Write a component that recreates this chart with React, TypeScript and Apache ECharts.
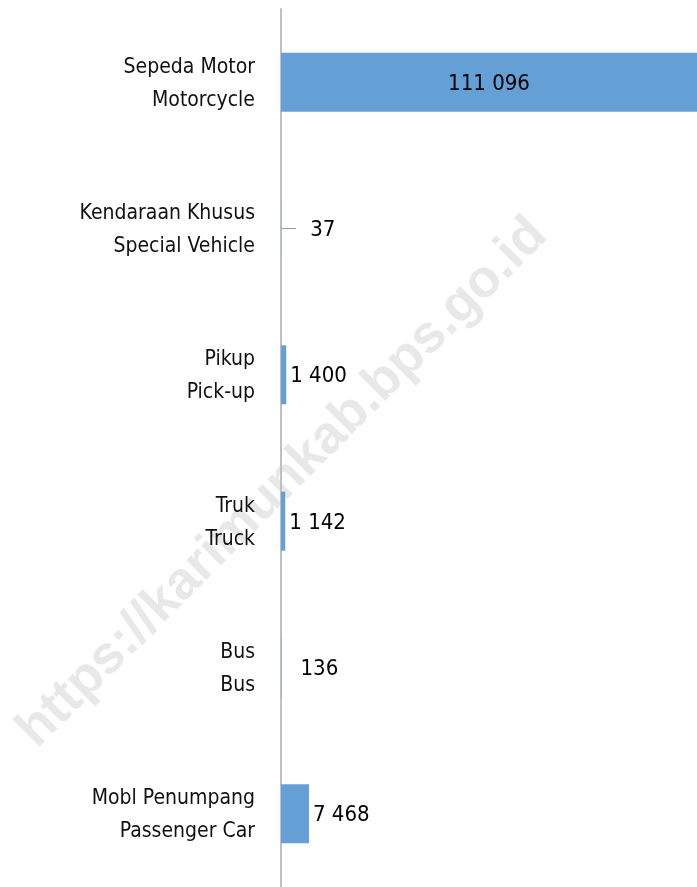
import React, { useEffect, useRef } from "react";
import * as echarts from "echarts";

const categories = [
  "Sepeda Motor\nMotorcycle",
  "Kendaraan Khusus\nSpecial Vehicle",
  "Pikup\nPick-up",
  "Truk\nTruck",
  "Bus\nBus",
  "Mobl Penumpang\nPassenger Car",
];
const values = [111096, 37, 1400, 1142, 136, 7468];
const watermark = "https://karimunkab.bps.go.id";

const FONT = '"DejaVu Sans Condensed", sans-serif';

const fmt = (v: number) => String(v).replace(/\B(?=(\d{3})+(?!\d))/g, " ");

export default function App() {
  const ref = useRef<HTMLDivElement>(null);
  useEffect(() => {
    if (!ref.current) return;
    const chart = echarts.init(ref.current, null, { renderer: "svg" });
    const maxV = Math.max(...values);
    chart.setOption({
      animation: false,
      textStyle: { fontFamily: FONT },
      graphic: [
        {
          type: "text",
          x: 280,
          y: 480,
          rotation: Math.PI / 4,
          z: -10,
          silent: true,
          style: {
            text: watermark,
            fontFamily: "Liberation Sans, Arial, sans-serif",
            fontWeight: "bold",
            fontSize: 53,
            fill: "#e8e8e8",
            align: "center",
            verticalAlign: "middle",
          },
        },
      ],
      grid: { left: 281, right: 0, top: 9, bottom: -2, containLabel: false },
      xAxis: {
        type: "value",
        min: 0,
        max: maxV,
        show: false,
      },
      yAxis: {
        type: "category",
        data: categories,
        inverse: true,
        axisTick: { show: false },
        axisLine: { show: true, lineStyle: { color: "#c0c0c0", width: 2 } },
        axisLabel: {
          margin: 26,
          fontSize: 21,
          lineHeight: 33,
          color: "#111",
          fontFamily: FONT,
          align: "right",
        },
        splitLine: { show: false },
      },
      series: [
        {
          type: "bar",
          barWidth: 59,
          z: 2,
          itemStyle: { color: "#649fd6" },
          data: values.map((v) => {
            const d: any = { value: v };
            if (v === maxV) {
              d.label = { position: "inside" };
            } else if (v < 100) {
              d.label = { padding: [0, 0, 0, 14], backgroundColor: "#ffffff" };
              d.labelLine = { show: true };
            } else if (v < 500) {
              d.label = { distance: 19 };
            }
            return d;
          }),
          label: {
            show: true,
            position: "right",
            distance: 4,
            fontSize: 22,
            color: "#000",
            fontFamily: FONT,
            formatter: (p: any) => fmt(p.value),
          },
          labelLayout: (p: any) => (values[p.dataIndex] < 100 ? { dx: 11 } : {}),
          labelLine: {
            show: false,
            showAbove: false,
            smooth: 0.5,
            lineStyle: { color: "#9a9a9a", width: 1 },
          },
        },
      ],
    });
    return () => chart.dispose();
  }, []);
  return (
    <div
      ref={ref}
      style={{ position: "fixed", left: 0, top: 0, width: 697, height: 887 }}
    />
  );
}
